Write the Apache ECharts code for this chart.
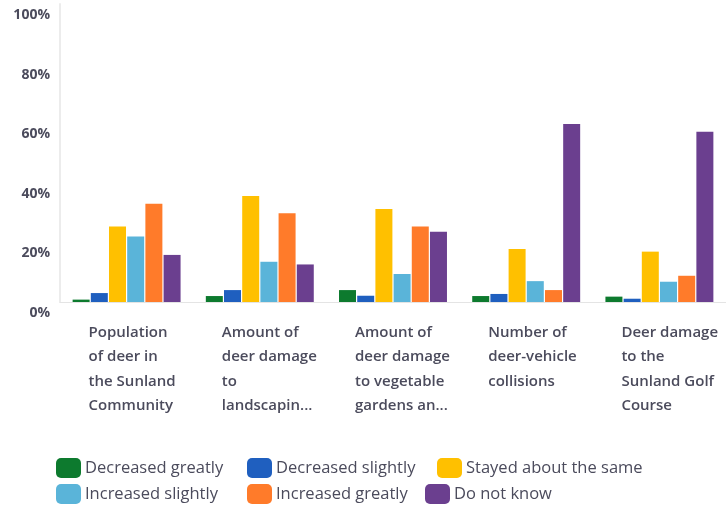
<!DOCTYPE html>
<html>
<head>
<meta charset="utf-8">
<script src="https://cdn.jsdelivr.net/npm/echarts@6/dist/echarts.min.js"></script>
<style>
  html, body { margin: 0; padding: 0; background: #fff; }
  #chart { width: 726px; height: 512px; }
</style>
</head>
<body>
<div id="chart"></div>
<script>
  // question labels, already wrapped like the survey export
  var categories = [
    'Population\nof deer in\nthe Sunland\nCommunity',
    'Amount of\ndeer damage\nto\nlandscapin...',
    'Amount of\ndeer damage\nto vegetable\ngardens an...',
    'Number of\ndeer-vehicle\ncollisions',
    'Deer damage\nto the\nSunland Golf\nCourse'
  ];

  var seriesNames = [
    'Decreased greatly', 'Decreased slightly', 'Stayed about the same',
    'Increased slightly', 'Increased greatly', 'Do not know'
  ];

  // percent of responses
  var decreasedGreatly  = [0.8, 2, 4, 2, 1.8];
  var decreasedSlightly = [3, 4, 2.1, 2.7, 1.1];
  var stayedSame        = [25.3, 35.6, 31.2, 17.8, 16.9];
  var increasedSlightly = [22, 13.5, 9.4, 7, 6.8];
  var increasedGreatly  = [33, 29.8, 25.3, 4, 8.8];
  var doNotKnow         = [15.8, 12.6, 23.6, 59.7, 57.1];

  var yTicks = [0, 20, 40, 60, 80, 100];

  var colors = ['#0d7a2e', '#1f5fbf', '#ffc000', '#5ab4d9', '#ff7b2a', '#6b3f8f'];
  var values = [decreasedGreatly, decreasedSlightly, stayedSame,
                increasedSlightly, increasedGreatly, doNotKnow];

  var textColor = '#4b4b5c';

  var chart = echarts.init(document.getElementById('chart'));

  var series = seriesNames.map(function (name, i) {
    return {
      name: name,
      type: 'bar',
      data: values[i],
      barWidth: 17,
      barGap: '7%',
      itemStyle: { color: colors[i] }
    };
  });

  // one legend per item so the two rows line up like the original
  var legendSpots = [
    { left: 56, top: 458 }, { left: 247, top: 458 }, { left: 437, top: 458 },
    { left: 56, top: 484 }, { left: 247, top: 484 }, { left: 425, top: 484 }
  ];
  var legends = seriesNames.map(function (name, i) {
    return {
      data: [name],
      left: legendSpots[i].left,
      top: legendSpots[i].top,
      padding: 0,
      itemWidth: 25,
      itemHeight: 20,
      icon: 'roundRect',
      selectedMode: false,
      textStyle: { color: textColor, fontSize: 16.5, fontFamily: 'Open Sans', padding: [0, 0, 0, -1] }
    };
  });

  chart.setOption({
    animation: false,
    color: colors,
    legend: legends,
    grid: { left: 60, top: 4, width: 674, bottom: 210 },
    xAxis: {
      type: 'category',
      data: categories,
      axisLine: { show: true, lineStyle: { color: '#e4e4e4', width: 1 } },
      axisTick: { show: false },
      axisLabel: {
        interval: 0,
        margin: 18,
        align: 'center',
        formatter: function (v) { return '{t|' + v + '}'; },
        rich: {
          t: {
            width: 76,
            align: 'left',
            lineHeight: 24.5,
            fontSize: 15,
            fontWeight: 600,
            fontFamily: 'Open Sans',
            color: textColor
          }
        }
      }
    },
    yAxis: {
      type: 'value',
      min: yTicks[0],
      max: yTicks[yTicks.length - 1],
      interval: 20,
      axisLine: { show: true, lineStyle: { color: '#ececec', width: 2 } },
      axisTick: { show: false },
      splitLine: { show: false },
      axisLabel: {
        margin: 10,
        verticalAlign: 'top',
        padding: [4, 0, 0, 0],
        fontSize: 14,
        fontWeight: 'bold',
        fontFamily: 'Open Sans',
        color: textColor,
        formatter: '{value}%'
      }
    },
    series: series
  });
</script>
</body>
</html>
